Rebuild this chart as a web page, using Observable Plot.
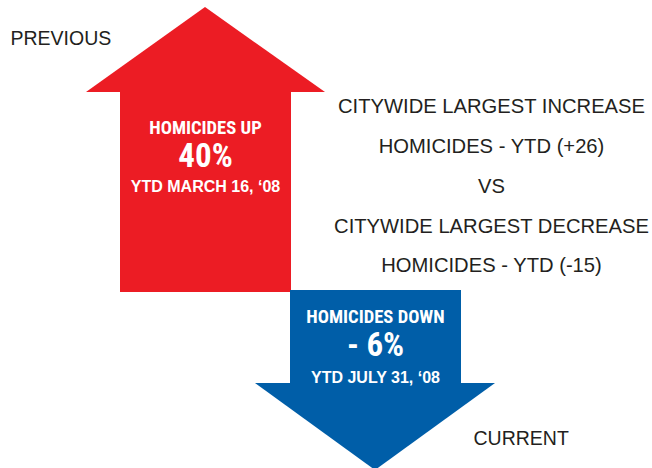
<!DOCTYPE html>
<html><head><meta charset="utf-8">
<script src="https://cdn.jsdelivr.net/npm/d3@7"></script>
<script src="https://cdn.jsdelivr.net/npm/@observablehq/plot@0.6"></script>
<style>
html,body{margin:0;padding:0;background:#fff;}
</style>
</head><body>
<div id="chart"></div>
<script>
// Data
const arrowNames = ["up", "down"];
const arrowLabels = ["HOMICIDES UP", "HOMICIDES DOWN"];
const arrowValues = ["40%", "- 6%"];
const arrowDates = ["YTD MARCH 16, \u201808", "YTD JULY 31, \u201808"];
const sideLines = ["CITYWIDE LARGEST INCREASE", "HOMICIDES - YTD (+26)", "VS", "CITYWIDE LARGEST DECREASE", "HOMICIDES - YTD (-15)"];
const cornerLabels = ["PREVIOUS", "CURRENT"];

// Layout (pixel space of the page)
const W = 652, H = 468;
const RED = "#ec1c24", BLUE = "#005ea8", INK = "#231f20";
const geom = {
  up:   {cx: 205, shaftL: 120, shaftR: 291, shaftT: 92, shaftB: 292, headL: 86, headR: 325, headBase: 92, tip: 7, fill: RED},
  down: {cx: 375, shaftL: 290, shaftR: 461, shaftT: 290, shaftB: 383, headL: 255, headR: 495, headBase: 383, tip: 470, fill: BLUE}
};
const shafts = arrowNames.map(n => ({x1: geom[n].shaftL, x2: geom[n].shaftR, y1: geom[n].shaftT, y2: geom[n].shaftB, fill: geom[n].fill}));
const heads = arrowNames.flatMap(n => {
  const g = geom[n];
  return [
    {k: n, x: g.headL, y1: g.headBase, y2: g.headBase},
    {k: n, x: g.cx, y1: g.headBase, y2: g.tip},
    {k: n, x: g.headR, y1: g.headBase, y2: g.headBase}
  ];
});
const labelY = [[133, 166, 191], [322, 355, 382]];
const arrowText = arrowNames.flatMap((n, i) => [
  {x: geom[n].cx, y: labelY[i][0], t: arrowLabels[i], s: 18.6, f: "cond"},
  {x: geom[n].cx, y: labelY[i][1], t: arrowValues[i], s: 33, f: "cond"},
  {x: geom[n].cx, y: labelY[i][2], t: arrowDates[i], s: 16, f: "bold"}
]);
const sideY = [112, 152, 192, 232, 271];
const sideText = sideLines.map((t, i) => ({x: 491, y: sideY[i], t}));
const cornerText = [{x: 10, y: 44, t: cornerLabels[0]}, {x: 473, y: 444, t: cornerLabels[1]}];

const condFont = "'Liberation Sans Narrow', 'Roboto Condensed', 'DejaVu Sans Condensed', Arial, sans-serif";
const plainFont = "'Liberation Sans', Arial, Helvetica, sans-serif";

const chart = Plot.plot({
  width: W, height: H, margin: 0,
  x: {domain: [0, W], range: [0, W], axis: null},
  y: {domain: [0, H], range: [0, H], axis: null},
  style: {background: "#fff"},
  marks: [
    Plot.rect(shafts, {x1: "x1", x2: "x2", y1: "y1", y2: "y2", fill: d => d.fill}),
    Plot.areaY(heads.filter(d => d.k === "up"), {x: "x", y1: "y1", y2: "y2", fill: RED}),
    Plot.areaY(heads.filter(d => d.k === "down"), {x: "x", y1: "y1", y2: "y2", fill: BLUE}),
    Plot.text(arrowText.filter(d => d.f === "cond"), {x: "x", y: "y", text: "t", fill: "white", fontWeight: "bold", fontSize: d => d.s, lineAnchor: "bottom", fontFamily: condFont}),
    Plot.text(arrowText.filter(d => d.f === "bold"), {x: "x", y: "y", text: "t", fill: "white", fontWeight: "bold", fontSize: d => d.s, lineAnchor: "bottom", fontFamily: plainFont}),
    Plot.text(sideText, {x: "x", y: "y", text: "t", fill: INK, fontSize: 20.2, lineAnchor: "bottom", fontFamily: plainFont}),
    Plot.text(cornerText, {x: "x", y: "y", text: "t", fill: INK, fontSize: 19.5, textAnchor: "start", lineAnchor: "bottom", fontFamily: plainFont})
  ]
});
document.getElementById("chart").appendChild(chart);
</script>
</body></html>
